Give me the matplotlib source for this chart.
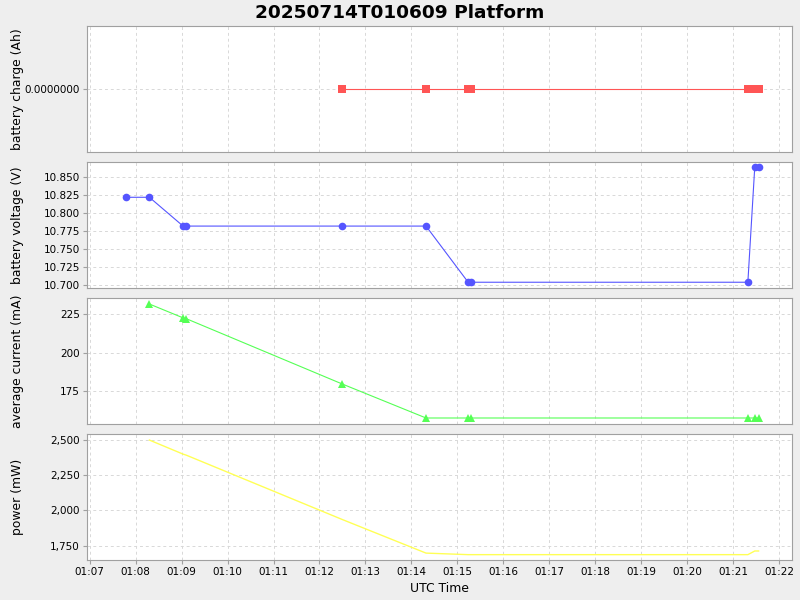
import datetime as dt
import matplotlib
matplotlib.use("Agg")
import matplotlib.pyplot as plt
import matplotlib.dates as mdates
import matplotlib.ticker as mticker

# seconds after 01:07:00 for each sample
base = dt.datetime(2025, 7, 14, 1, 7, 0)
t_volt = [48, 78, 122, 126, 330, 439, 494, 498, 859, 868, 873]
volt = [10.822, 10.822, 10.782, 10.782, 10.782, 10.782, 10.704, 10.704, 10.704, 10.864, 10.864]
t_cur = [78, 122, 126, 330, 439, 494, 498, 859, 868, 873]
cur = [231.5, 222.5, 222.0, 179.5, 157.5, 157.5, 157.5, 157.5, 157.5, 157.5]
power = [2500, 2400, 2393, 1935, 1697, 1686, 1686, 1686, 1712, 1712]
t_chg = [330, 439, 494, 498, 859, 864, 869, 874]
charge = [0, 0, 0, 0, 0, 0, 0, 0]


def to_dt(secs):
    return [base + dt.timedelta(seconds=s) for s in secs]


fig = plt.figure(figsize=(8, 6), dpi=100, facecolor="#eeeeee")
fig.suptitle("20250714T010609 Platform", fontsize=13.3, fontweight="bold", y=0.993)

left, width, h = 87 / 800, 705 / 800, 126 / 600
tops = [26, 162, 298, 434]
axes = [fig.add_axes([left, 1 - (tp + 126) / 600, width, h]) for tp in tops]

axes[0].plot(to_dt(t_chg), charge, color="#ff5555", lw=0.8, marker="s", ms=6, mew=0)
axes[1].plot(to_dt(t_volt), volt, color="#5555ff", lw=0.8, marker="o", ms=5.5, mew=0)
axes[2].plot(to_dt(t_cur), cur, color="#55ff55", lw=0.8, marker="^", ms=6, mew=0)
axes[3].plot(to_dt(t_cur), power, color="#ffff55", lw=1.0)

axes[0].set_ylim(-1, 1)
axes[0].set_yticks([0])
axes[0].yaxis.set_major_formatter(mticker.FormatStrFormatter("%.7f"))
axes[1].set_ylim(10.696, 10.871)
axes[1].set_yticks([10.700, 10.725, 10.750, 10.775, 10.800, 10.825, 10.850])
axes[1].yaxis.set_major_formatter(mticker.FormatStrFormatter("%.3f"))
axes[2].set_ylim(153.6, 235.4)
axes[2].set_yticks([175, 200, 225])
axes[3].set_ylim(1648, 2543)
axes[3].set_yticks([1750, 2000, 2250, 2500])
axes[3].yaxis.set_major_formatter(mticker.FuncFormatter(lambda v, p: f"{v:,.0f}"))

labels = ["battery charge (Ah)", "battery voltage (V)", "average current (mA)", "power (mW)"]
xmin = base + dt.timedelta(seconds=-3.4)
xmax = base + dt.timedelta(seconds=916.6)
for ax, lab in zip(axes, labels):
    ax.set_facecolor("white")
    ax.set_xlim(xmin, xmax)
    ax.xaxis.set_major_locator(mdates.MinuteLocator())
    ax.xaxis.set_major_formatter(mdates.DateFormatter("%H:%M"))
    ax.grid(True, color="#d8d8d8", ls=(0, (3, 3)), lw=0.7)
    ax.set_axisbelow(True)
    for s in ax.spines.values():
        s.set_color("#a0a0a0")
    ax.tick_params(labelsize=7.5, length=3, color="#a0a0a0", pad=2)
    ax.set_ylabel(lab, fontsize=8.9)
    ax.yaxis.set_label_coords(-0.09, 0.5)
    if ax is not axes[3]:
        ax.tick_params(labelbottom=False, length=0, axis="x")

axes[3].set_xlabel("UTC Time", fontsize=8.9, labelpad=4)

fig.savefig("out.png", dpi=100, facecolor=fig.get_facecolor())
